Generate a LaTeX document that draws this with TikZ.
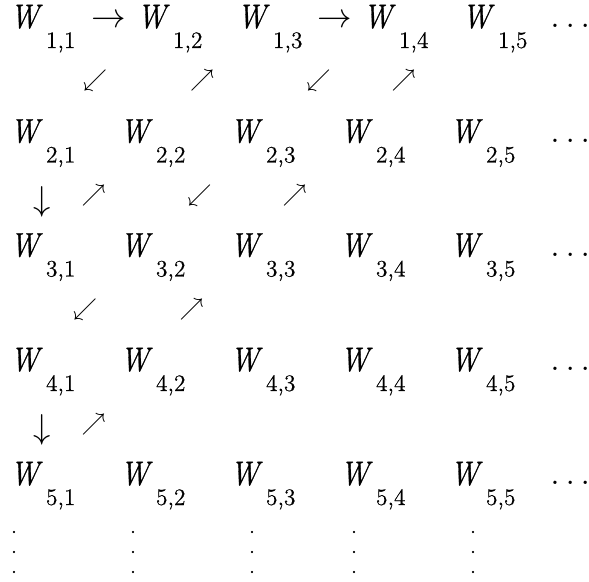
\documentclass[tikz,border=0pt]{standalone}
\usepackage{fontspec}
\newfontfamily\wfont[FakeBold=0.8,FakeStretch=0.86]{Latin Modern Roman}
\newfontfamily\subfont[FakeBold=0.5]{Latin Modern Roman}

% W with a low index, as in the table
\newcommand{\Wsub}[2]{{\wfont\itshape W}\kern3.5pt\raisebox{-10pt}{\subfont\fontsize{11.8}{12}\selectfont #1,#2}}

\tikzset{
  entry/.style={anchor=base west, inner sep=0pt, font=\fontsize{17}{17}\selectfont},
  arrow/.style={anchor=base west, inner sep=0pt, font=\fontsize{18}{18}\selectfont},
  diag/.style={inner sep=0pt, font=\fontsize{13}{13}\selectfont},
  down/.style={inner sep=0pt, font=\fontsize{17}{17}\selectfont},
  vdot/.style={inner sep=0pt, align=center, font=\subfont\fontsize{9.5}{10}\selectfont}
}

\begin{document}
\begin{tikzpicture}[x=0.5pt, y=-0.5pt]
\useasboundingbox (0,0) rectangle (589,582);

% First row
\node[entry] (w11) at (10,28) {\Wsub{1}{1}};
\node[arrow] (r1) at (91,28) {$\rightarrow$};
\node[entry] (w12) at (137,28) {\Wsub{1}{2}};
\node[entry] (w13) at (237,28) {\Wsub{1}{3}};
\node[arrow] (r2) at (317,28) {$\rightarrow$};
\node[entry] (w14) at (363,28) {\Wsub{1}{4}};
\node[entry] (w15) at (462,28) {\Wsub{1}{5}};
\node[arrow] (h1) at (550,28) {$\ldots$};

% Other rows
\foreach \r/\y in {2/142.5,3/256.5,4/371,5/485} {
    \foreach \c/\x in {1/10,2/120,3/230,4/340,5/450}
        \node[entry] (w\r\c) at (\x,\y) {\Wsub{\r}{\c}};
    \node[arrow] (h\r) at (550,\y) {$\ldots$};
}

% Diagonal steps
\node[diag] (sw1) at (95,81) {$\swarrow$};
\node[diag] (ne1) at (202,81) {$\nearrow$};
\node[diag] (sw2) at (318.5,81) {$\swarrow$};
\node[diag] (ne2) at (403.5,81) {$\nearrow$};
\node[down] (dn1) at (42.5,201.5) {$\downarrow$};
\node[diag] (ne3) at (93.5,196) {$\nearrow$};
\node[diag] (sw3) at (199.5,196) {$\swarrow$};
\node[diag] (ne4) at (294.5,196) {$\nearrow$};
\node[diag] (sw4) at (85,310) {$\swarrow$};
\node[diag] (ne5) at (191.5,310) {$\nearrow$};
\node[down] (dn2) at (42.5,429.5) {$\downarrow$};
\node[diag] (ne6) at (93.5,425) {$\nearrow$};

% Columns go on
\foreach \x [count=\i] in {14,133,252,354,473}
    \node[vdot] (v\i) at (\x,552) {.\\.\\.};
\end{tikzpicture}
\end{document}
